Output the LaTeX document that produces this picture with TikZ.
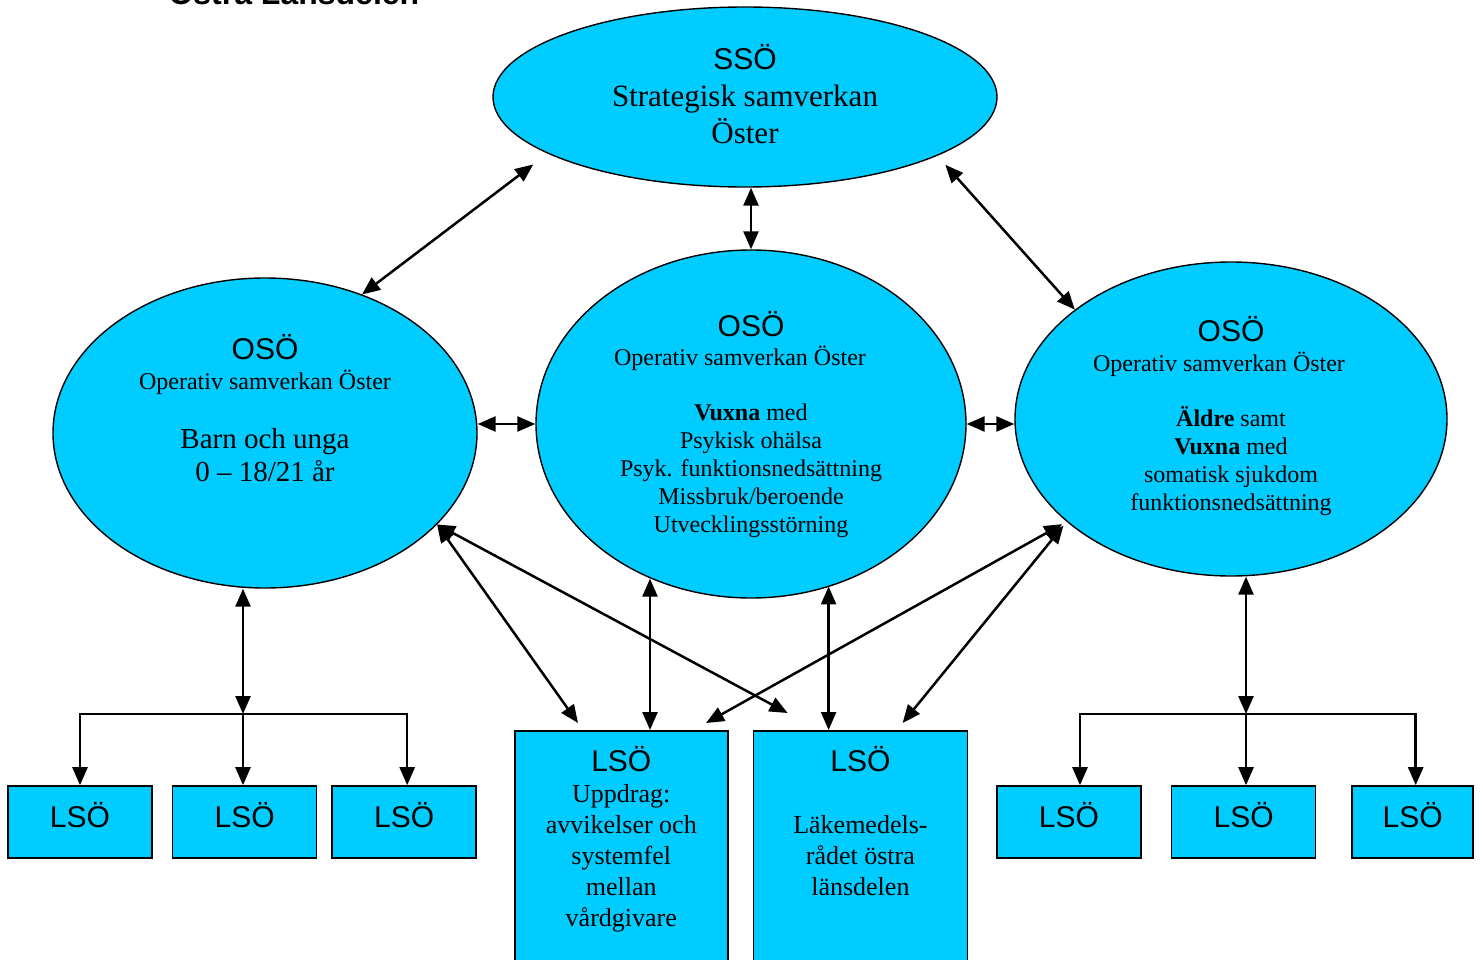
\documentclass[tikz,border=0pt]{standalone}
\usepackage{fontspec}
\setmainfont{Liberation Serif}
\setsansfont{Liberation Sans}
\usepackage{tikz}
\usetikzlibrary{positioning, arrows.meta, shapes.geometric}
\definecolor{osoecyan}{RGB}{0,204,255}
\newcommand{\kortfont}{\sffamily\fontsize{30}{31}\selectfont}
\newcommand{\forkort}[1]{{\kortfont #1}}
\newcommand{\rubrik}{\sffamily\bfseries\fontsize{32}{38}\selectfont}
\newcommand{\ssoetext}{\fontsize{31}{37}\selectfont}
\newcommand{\osoetext}{\fontsize{24}{28}\selectfont}
\newcommand{\lsoetext}{\fontsize{26}{31}\selectfont}
\newcommand{\barnrad}[1]{{\fontsize{29}{33}\selectfont #1}}
\tikzset{
  osoeoval/.style={draw, ellipse, fill=osoecyan, line width=1.4pt},
  lsoebox/.style={draw, rectangle, fill=osoecyan, line width=1.6pt, minimum width=144pt, minimum height=72pt},
  dblarr/.style={<->, line width=2.5pt},
  downarr/.style={->, line width=2.5pt}
}

\begin{document}
\begin{tikzpicture}[x=1pt, y=-1pt, >={Triangle[length=18pt,width=15pt]}]
    \path[use as bounding box, clip] (0,0) rectangle (1483,960);
    \node (title) [anchor=base west, font=\rubrik] at (165,5) {Östra Länsdelen};

    % strategisk nivå
    \node (ssoe) [osoeoval, minimum width=504pt, minimum height=180pt, label={[align=center, font=\ssoetext, yshift=3pt]center:{\forkort{SSÖ}\\ Strategisk samverkan\\ Öster}}] at (745,97) {};

    % operativ nivå
    \node (osoeL) [osoeoval, minimum width=424pt, minimum height=310pt, label={[align=center, font=\osoetext, yshift=25pt]center:{\forkort{OSÖ}\\[2pt] Operativ samverkan Öster\\[31pt] \barnrad{Barn och unga}\\[5pt] \barnrad{0 – 18/21 år}}}] at (265,433) {};
    \node (osoeM) [osoeoval, minimum width=430pt, minimum height=348pt, label={[align=center, font=\osoetext, yshift=-1pt]center:{\forkort{OSÖ}\\[1pt] Operativ samverkan Öster\rule{22pt}{0pt}\\[27pt] \textbf{Vuxna} med\\ Psykisk ohälsa\\ Psyk. funktionsnedsättning\\ Missbruk/beroende\\ Utvecklingsstörning}}] at (751,424) {};
    \node (osoeR) [osoeoval, minimum width=432pt, minimum height=314pt, label={[align=center, font=\osoetext, yshift=3pt]center:{\forkort{OSÖ}\\[2pt] Operativ samverkan Öster\rule{24pt}{0pt}\\[27pt] \textbf{Äldre} samt\\ \textbf{Vuxna} med\\ somatisk sjukdom\\ funktionsnedsättning}}] at (1231,419) {};

    % lokal nivå
    \node (lsoeL1) [lsoebox, label={[font=\kortfont, yshift=7pt]center:LSÖ}] at (80,822) {};
    \node (lsoeL2) [lsoebox, right=19pt of lsoeL1, label={[font=\kortfont, yshift=7pt]center:LSÖ}] {};
    \node (lsoeL3) [lsoebox, right=14pt of lsoeL2, label={[font=\kortfont, yshift=7pt]center:LSÖ}] {};
    \node (lsoeR1) [lsoebox, label={[font=\kortfont, yshift=7pt]center:LSÖ}] at (1069,822) {};
    \node (lsoeR2) [lsoebox, right=29pt of lsoeR1, label={[font=\kortfont, yshift=7pt]center:LSÖ}] {};
    \node (lsoeR3) [lsoebox, minimum width=121pt, right=35pt of lsoeR2, label={[font=\kortfont, yshift=7pt]center:LSÖ}] {};

    \node (box1) [lsoebox, anchor=north west, minimum width=213pt, minimum height=300pt, label={[anchor=north, yshift=-13pt, align=center, font=\lsoetext]north:{\forkort{LSÖ}\\ Uppdrag:\\ avvikelser och\\ systemfel\\ mellan\\ vårdgivare}}] at (514,730) {};
    \node (box2) [lsoebox, right=24pt of box1, minimum width=214pt, minimum height=300pt, label={[anchor=north, yshift=-13pt, align=center, font=\lsoetext]north:{\forkort{LSÖ}\\[31pt] Läkemedels-\\ rådet östra\\ länsdelen}}] {};

    \coordinate (m1) at ([xshift=136pt]box1.north west);
    \coordinate (m2) at ([xshift=76pt]box2.north west);
    \coordinate (jL) at (243,714);
    \coordinate (jR) at (1246,714);

    % pilar
    \draw [dblarr, shorten >=18pt] (osoeL.55) -- (ssoe.196);
    \draw [dblarr] (osoeM.north) -- (osoeM.north |- ssoe.south);
    \draw [dblarr, shorten <=12pt] (ssoe.343) -- (osoeR.145);
    \draw [dblarr] (osoeM.west) -- (osoeM.west -| osoeL.east);
    \draw [dblarr] (osoeM.east) -- (osoeM.east -| osoeR.west);

    \draw [dblarr] (osoeL.332) -- ([xshift=64pt, yshift=7pt]box1.north west);
    \draw [dblarr] (osoeL.332) -- ([xshift=35pt, yshift=17pt]box2.north west);
    \draw [dblarr] (m1) -- (m1 |- osoeM.237);
    \draw [dblarr] (m2) -- (m2 |- osoeM.296);
    \draw [dblarr, shorten <=5pt] (osoeR.212) -- ([xshift=192pt, yshift=7pt]box1.north west);
    \draw [dblarr, shorten <=5pt] (osoeR.212) -- ([xshift=150pt, yshift=7pt]box2.north west);

    \draw [dblarr] (jL) -- (jL |- osoeL.south);
    \draw [downarr] (jL) -| (lsoeL1.north);
    \draw [downarr] (jL) -- (jL |- lsoeL2.north);
    \draw [downarr] (jL) -| ([xshift=3pt]lsoeL3.north);
    \draw [dblarr] (jR) -- (jR |- osoeR.south);
    \draw [downarr] (jR) -| ([xshift=11pt]lsoeR1.north);
    \draw [downarr] (jR) -- (jR |- lsoeR2.north);
    \draw [downarr] (jR) -| ([xshift=3pt]lsoeR3.north);
\end{tikzpicture}
\end{document}
